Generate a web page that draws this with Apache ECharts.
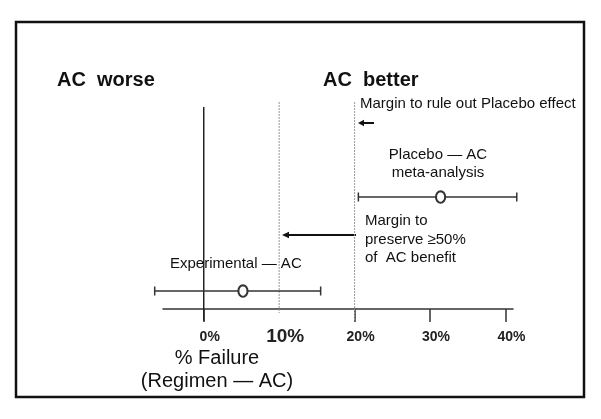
<!DOCTYPE html>
<html><head><meta charset="utf-8">
<script src="https://cdn.jsdelivr.net/npm/echarts@6/dist/echarts.min.js"></script>
<style>html,body{margin:0;padding:0;background:#fff;}#c{width:601px;height:419px;}</style>
</head><body><div id="c"></div>
<script>
// ---- data ----
const rowNames = ['Experimental — AC', 'Placebo — AC'];
const ciLow = [-6.5, 20.5];
const ciMid = [5.2, 31.4];
const ciHigh = [15.5, 41.5];
const tickLabelValues = [0, 10, 20, 30, 40];
const tickMarkValues = [0, 20, 30, 40];
const refLineValues = [0, 10, 20];

const FONT = "'Liberation Sans', Arial, sans-serif";
const INK = '#111';

const chart = echarts.init(document.getElementById('c'), null, { renderer: 'canvas' });

const ciData = rowNames.map((n, i) => [ciLow[i], ciMid[i], ciHigh[i], i]);

function renderCI(params, api) {
  const lo = api.coord([api.value(0), api.value(3)]);
  const mid = api.coord([api.value(1), api.value(3)]);
  const hi = api.coord([api.value(2), api.value(3)]);
  const y = lo[1];
  const stroke = '#333';
  const rx = 4.6, ry = 5.8, cx = mid[0];
  const pts = [];
  for (let k = 0; k < 16; k++) {
    const a = k / 16 * Math.PI * 2;
    pts.push([cx + rx * Math.cos(a), y + ry * Math.sin(a)]);
  }
  return {
    type: 'group', children: [
      { type: 'line', shape: { x1: lo[0], y1: y, x2: hi[0], y2: y }, style: { stroke, lineWidth: 1.5 } },
      { type: 'line', shape: { x1: lo[0], y1: y - 4.5, x2: lo[0], y2: y + 4.5 }, style: { stroke, lineWidth: 1.5 } },
      { type: 'line', shape: { x1: hi[0], y1: y - 4.5, x2: hi[0], y2: y + 4.5 }, style: { stroke, lineWidth: 1.5 } },
      { type: 'polygon', shape: { points: pts }, style: { fill: '#fff', stroke, lineWidth: 2 } }
    ]
  };
}

function renderRef(params, api) {
  const v = api.value(0);
  const x = api.coord([v, 0])[0];
  const zero = v === 0;
  const top = zero ? 107 : 102;
  const bottom = v === 10 ? 313 : 321;
  return {
    type: 'line',
    shape: { x1: x, y1: top, x2: x, y2: bottom },
    style: zero ? { stroke: '#222', lineWidth: 1.5 } : { stroke: '#999', lineWidth: 1, lineDash: [2, 1] }
  };
}

function txt(text, x, y, size, opts) {
  opts = opts || {};
  return {
    type: 'text', x: x, y: y, silent: true,
    style: {
      text: text, fontSize: size, fontFamily: FONT, fontWeight: opts.bold ? 'bold' : 'normal',
      fill: INK, align: opts.align || 'left', verticalAlign: 'middle', lineHeight: opts.lh || size * 1.2
    }
  };
}

function arrowLeft(x1, x2, y, head, w) {
  return [
    { type: 'line', shape: { x1: x1 + head - 1, y1: y, x2: x2, y2: y }, style: { stroke: INK, lineWidth: w } },
    { type: 'polygon', shape: { points: [[x1, y], [x1 + head, y - 3.2], [x1 + head, y + 3.2]] }, style: { fill: INK } }
  ];
}

const option = {
  animation: false,
  grid: { left: 163, right: 88, top: 197, bottom: 128 },
  xAxis: {
    type: 'value', min: -5.4, max: 41, offset: 18,
    splitLine: { show: false },
    axisLine: { show: true, lineStyle: { color: '#333', width: 1.5 } },
    axisTick: { show: true, customValues: tickMarkValues, length: 13, lineStyle: { color: '#333', width: 1.5 } },
    axisLabel: {
      customValues: tickLabelValues, margin: 21, padding: [0, 0, 0, 12],
      formatter: v => v === 10 ? '{big|' + v + '%}' : '{s|' + v + '%}',
      rich: {
        s: { fontSize: 14, fontWeight: 'bold', fontFamily: FONT, color: '#222', lineHeight: 14 },
        big: { fontSize: 19, fontWeight: 'bold', fontFamily: FONT, color: '#222', lineHeight: 14 }
      }
    }
  },
  yAxis: { type: 'category', data: rowNames, boundaryGap: false, show: false },
  series: [
    { type: 'custom', data: refLineValues.map(v => [v]), renderItem: renderRef, clip: false, z: 1 },
    { type: 'custom', data: ciData, renderItem: renderCI, clip: false, z: 3 }
  ],
  graphic: [
    { type: 'rect', shape: { x: 16, y: 22, width: 568, height: 375 }, style: { fill: 'none', stroke: '#111', lineWidth: 2.5 }, silent: true },
    txt('AC  worse', 57, 80, 20, { bold: true }),
    txt('AC  better', 323, 80, 20, { bold: true }),
    txt('Margin to rule out Placebo effect', 360, 104, 15),
    ...arrowLeft(358, 374, 123, 6, 2),
    txt('Placebo — AC\nmeta-analysis', 438, 164, 15, { align: 'center', lh: 18 }),
    txt('Margin to\npreserve ≥50%\nof  AC benefit', 365, 239.5, 15, { lh: 18.5 }),
    ...arrowLeft(282, 356, 235, 7, 2),
    txt('Experimental — AC', 170, 264, 15),
    txt('% Failure\n(Regimen — AC)', 217, 369.5, 20, { align: 'center', lh: 23 })
  ]
};
chart.setOption(option);
</script>
</body></html>
